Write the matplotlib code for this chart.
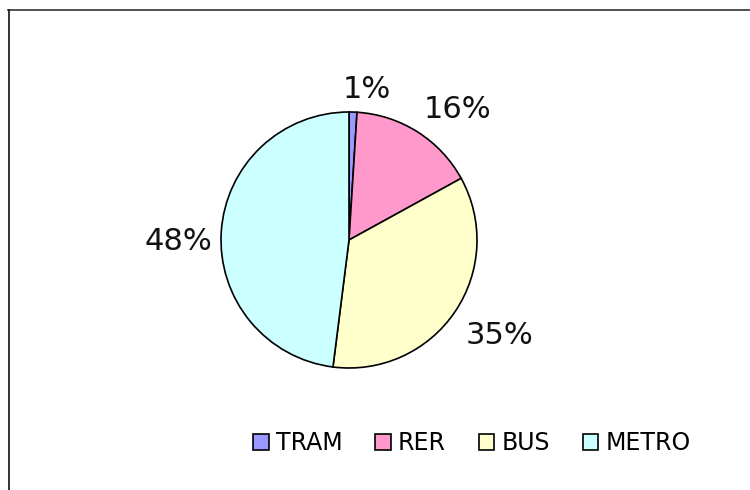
import matplotlib
matplotlib.use("Agg")
import matplotlib.pyplot as plt
import numpy as np
from matplotlib.lines import Line2D

# Data
categories = ["TRAM", "RER", "BUS", "METRO"]
shares = [1, 16, 35, 48]
colors = ["#9999FF", "#FF99CC", "#FFFFCC", "#CCFFFF"]

plt.rcParams['font.family'] = ['DejaVu Sans']

fig = plt.figure(figsize=(7.5, 4.9), dpi=100)

# Pie axes: center ~ (349, 240) px, radius ~128 px
cx, cy, r = 349, 240, 128
W, H = 750, 490
ax = fig.add_axes([(cx - r) / W, (H - cy - r) / H, 2 * r / W, 2 * r / H])

wedges, texts, autotexts = ax.pie(
    shares, colors=colors, startangle=90, counterclock=False,
    autopct='%1.0f%%', pctdistance=1.35,
    wedgeprops=dict(edgecolor='black', linewidth=1.2),
    textprops=dict(fontsize=22, color='#111111'))
ax.set_xlim(-1, 1)
ax.set_ylim(-1, 1)
ax.set_aspect('equal')

# small nudges so labels sit where Excel put them (in pixels)
nudges = [(12, -22), (16, -15), (8, 2), (2, -12)]
for t, (dx, dy) in zip(autotexts, nudges):
    x, y = t.get_position()
    t.set_position((x + dx / r, y + dy / r))

# Legend
handles = [plt.Rectangle((0, 0), 1, 1, facecolor=c, edgecolor='black', linewidth=1.2) for c in colors]
fig.legend(handles, categories, loc='center', bbox_to_anchor=(472 / W, 1 - 443 / H),
           ncol=4, frameon=False, fontsize=17, handlelength=0.65, handleheight=0.65,
           handletextpad=0.3, columnspacing=1.4)

# Chart frame (top and left edges visible)
fig.add_artist(Line2D([8 / W, 1], [1 - 10.5 / H, 1 - 10.5 / H], color='#333333', linewidth=1.2))
fig.add_artist(Line2D([8.5 / W, 8.5 / W], [0, 1 - 10 / H], color='#111111', linewidth=1.2))

fig.savefig("out.png", dpi=100)
